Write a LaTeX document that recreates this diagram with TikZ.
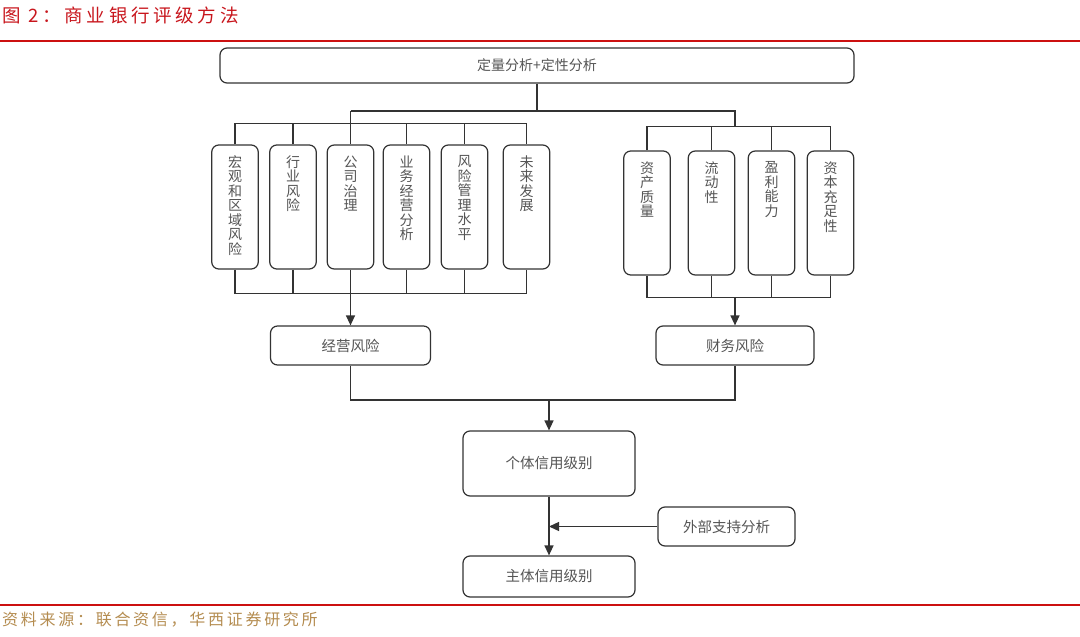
\documentclass[tikz,border=0pt]{standalone}
\usepackage{fontspec}
\newfontfamily\cjk{Noto Sans CJK SC}
\newfontfamily\cjktitle[LetterSpace=20]{Noto Sans CJK SC}
\newfontfamily\cjkfoot[LetterSpace=17]{Noto Sans CJK SC}
\usetikzlibrary{arrows.meta}
\definecolor{redline}{HTML}{CC1010}
\definecolor{titlered}{HTML}{C8161D}
\definecolor{footc}{HTML}{B48C50}
\definecolor{linec}{HTML}{333333}
\definecolor{textc}{HTML}{555555}
\tikzset{
  box/.style={draw=linec, line width=1.2pt, rounded corners=7pt, fill=white, inner sep=0pt,
    font=\cjk\fontsize{14}{15}\selectfont, text=textc},
  vtext/.style={anchor=north, inner sep=0pt, align=center, text=textc,
    font=\cjk\fontsize{14}{14.5}\selectfont},
  conn/.style={draw=linec, line width=1.3pt},
  arr/.style={conn, -{Triangle[length=10pt,width=9pt]}},
  redrule/.style={draw=redline, line width=2.2pt}
}
\begin{document}
\begin{tikzpicture}[x=1pt,y=-1pt]
\useasboundingbox (0,0) rectangle (1080,637);
% title and rules
\node[anchor=west, inner sep=0pt, text=titlered, font=\cjktitle\fontsize{18.5}{18.5}\selectfont] (title) at (2,15) {图 2：商业银行评级方法};
\draw[redrule] (0,41) -- (1080,41);
\draw[redrule] (0,605) -- (1080,605);
\node[anchor=west, inner sep=0pt, text=footc, font=\cjkfoot\fontsize{16}{16}\selectfont] (foot) at (2,620) {资料来源：联合资信，华西证券研究所};

% top box
\node[box, minimum width=634, minimum height=35] (top) at (537,65.5) {定量分析+定性分析};

% left vertical boxes
\foreach \n/\x in {b1/235, b2/293, b3/350.5, b4/406.5, b5/464.5, b6/526.5}
  \node[box, minimum width=46.5, minimum height=124] (\n) at (\x,207) {};
\node[vtext] at ([yshift=-11pt]b1.north) {宏\\观\\和\\区\\域\\风\\险};
\node[vtext] at ([yshift=-11pt]b2.north) {行\\业\\风\\险};
\node[vtext] at ([yshift=-11pt]b3.north) {公\\司\\治\\理};
\node[vtext] at ([yshift=-11pt]b4.north) {业\\务\\经\\营\\分\\析};
\node[vtext] at ([yshift=-11pt]b5.north) {风\\险\\管\\理\\水\\平};
\node[vtext] at ([yshift=-11pt]b6.north) {未\\来\\发\\展};

% right vertical boxes
\foreach \n/\x in {r1/647, r2/711.5, r3/771.5, r4/830.5}
  \node[box, minimum width=46.5, minimum height=124] (\n) at (\x,213) {};
\node[vtext] at ([yshift=-11pt]r1.north) {资\\产\\质\\量};
\node[vtext] at ([yshift=-11pt]r2.north) {流\\动\\性};
\node[vtext] at ([yshift=-11pt]r3.north) {盈\\利\\能\\力};
\node[vtext] at ([yshift=-11pt]r4.north) {资\\本\\充\\足\\性};

% risk boxes
\node[box, minimum width=160, minimum height=39, font=\cjk\fontsize{14.5}{15}\selectfont] (jy) at (350.5,345.5) {经营风险};
\node[box, minimum width=158, minimum height=39, font=\cjk\fontsize{14.5}{15}\selectfont] (cw) at (735,345.5) {财务风险};

% rating boxes
\node[box, minimum width=172, minimum height=65, font=\cjk\fontsize{14.5}{15}\selectfont] (gt) at (549,463.5) {个体信用级别};
\node[box, minimum width=172, minimum height=41, font=\cjk\fontsize{14.5}{15}\selectfont] (zt) at (549,576.5) {主体信用级别};
\node[box, minimum width=137, minimum height=39, font=\cjk\fontsize{14.5}{15}\selectfont] (wb) at (726.5,526.5) {外部支持分析};

% bus coordinates
\coordinate (tbL) at (350.5,111);
\coordinate (tbR) at (735,111);
\coordinate (rbT) at (735,127);
\coordinate (rb) at (735,297);
\coordinate (bb) at (549,400);

% top connectors
\draw[conn] (top.south) -- (top.south |- tbL);
\draw[conn] (tbL) -- (tbR) -- (rbT);
\draw[conn] (tbL) -- (b3.north);
\draw[conn] (b1.north) -- ++(0,-21) -| (b6.north);
\foreach \n in {b2,b4,b5} \draw[conn] (\n.north) -- ++(0,-21);
\draw[conn] (r1.north) -- ++(0,-24) -| (r4.north);
\foreach \n in {r2,r3} \draw[conn] (\n.north) -- ++(0,-24);

% bottom connectors of left group
\draw[conn] (b1.south) -- ++(0,24) -| (b6.south);
\foreach \n in {b2,b4,b5} \draw[conn] (\n.south) -- ++(0,24);
\draw[arr] (b3.south) -- (jy.north);

% bottom connectors of right group
\draw[conn] (r1.south) -- ++(0,22) -| (r4.south);
\foreach \n in {r2,r3} \draw[conn] (\n.south) -- ++(0,22);
\draw[arr] (rb) -- (cw.north);

% merge
\draw[conn] (jy.south) |- (bb) -| (cw.south);
\draw[arr] (bb) -- (gt.north);
\draw[arr] (gt.south) -- (zt.north);
\draw[arr] (wb.west) -- (gt.south |- wb.west);
\end{tikzpicture}
\end{document}
